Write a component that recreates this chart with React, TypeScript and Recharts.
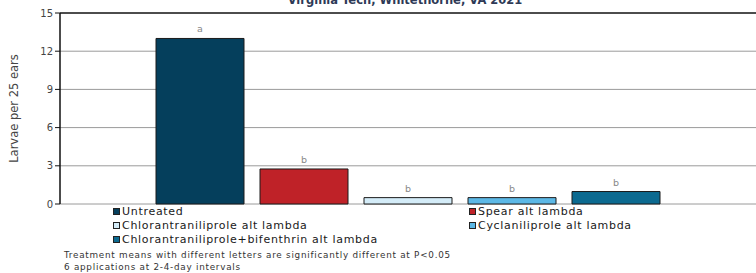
import {BarChart, Bar, XAxis, YAxis, CartesianGrid, LabelList, ReferenceLine} from "recharts";

const treatments = [
    "Untreated",
    "Spear alt lambda",
    "Chlorantraniliprole alt lambda",
    "Cyclaniliprole alt lambda",
    "Chlorantraniliprole+bifenthrin alt lambda",
];
const larvae = [13, 2.75, 0.5, 0.5, 0.98];
const letters = ["a", "b", "b", "b", "b"];
const colors = ["#053F5C", "#BF2228", "#D4ECF8", "#5CB8E6", "#0C6A90"];
const yTicks = [0, 3, 6, 9, 12, 15];

// legend is drawn in two columns, in this order
const legendLeft = [0, 2, 4];
const legendRight = [1, 3];

const notes = [
    "Treatment means with different letters are significantly different at P<0.05",
    "6 applications at 2-4-day intervals",
];

const FONT = "'DejaVu Sans', sans-serif";

const row: Record<string, number | string> = {name: "2021"};
treatments.forEach((t, i) => {
    row[`s${i}`] = larvae[i];
});
const data = [row];

const LegendItem = ({i}: { i: number }) => (
    <div style={{display: "flex", alignItems: "center", height: 14, whiteSpace: "nowrap"}}>
        <span style={{
            width: 7, height: 7, background: colors[i], border: "1px solid #222",
            marginRight: 2, boxSizing: "border-box", display: "inline-block", flexShrink: 0
        }}/>
        <span>{treatments[i]}</span>
    </div>
);

export default function App() {
    return (
        <div style={{position: "absolute", left: 0, top: 0, width: 756, height: 273, fontFamily: FONT, overflow: "hidden"}}>
            <BarChart width={756} height={273} data={data}
                      margin={{top: 13, right: 0, left: 0, bottom: 69}}
                      barSize={88} barGap={16}>
                <text x={405} y={4} textAnchor="middle" fontFamily={FONT} fontWeight="bold"
                      fontSize={11.5} fill="#2E3A56">Virginia Tech, Whitethorne, VA 2021</text>
                <CartesianGrid vertical={false} stroke="#9a9a9a"/>
                <XAxis dataKey="name" tick={false} height={0} axisLine={{stroke: "#111", strokeWidth: 1.5}} tickLine={false}/>
                <YAxis domain={[0, 15]} ticks={yTicks} width={60} interval={0}
                       axisLine={{stroke: "#111", strokeWidth: 1.5}} tickLine={{stroke: "#111"}} tickSize={5}
                       tick={{fontSize: 10, fill: "#444", fontFamily: FONT}}
                       label={{
                           value: "Larvae per 25 ears", angle: -90, position: "insideLeft", offset: 14,
                           style: {textAnchor: "middle", fontSize: 11.5, fill: "#444", fontFamily: FONT}
                       }}/>
                <ReferenceLine y={15} stroke="#222" strokeWidth={1.5}/>
                {treatments.map((t, i) => (
                    <Bar key={t} dataKey={`s${i}`} name={t} fill={colors[i]} stroke="#1a1a1a"
                         strokeWidth={1} isAnimationActive={false}>
                        <LabelList position="top"
                                   content={(p: any) => (
                                       <text x={p.x + p.width / 2} y={p.y - 6} textAnchor="middle"
                                             fontSize={9.5} fill="#888" fontFamily={FONT}>{letters[i]}</text>
                                   )}/>
                    </Bar>
                ))}
            </BarChart>
            <div style={{position: "absolute", left: 113, top: 204, fontSize: 11, letterSpacing: 0.7, color: "#1a1a1a"}}>
                {legendLeft.map(i => <LegendItem key={i} i={i}/>)}
            </div>
            <div style={{position: "absolute", left: 469, top: 204, fontSize: 11, letterSpacing: 0.7, color: "#1a1a1a"}}>
                {legendRight.map(i => <LegendItem key={i} i={i}/>)}
            </div>
            <div style={{position: "absolute", left: 64, top: 249, fontSize: 8.8, letterSpacing: 0.75, color: "#333", lineHeight: "12px", whiteSpace: "nowrap"}}>
                {notes.map(n => <div key={n}>{n}</div>)}
            </div>
        </div>
    );
}
